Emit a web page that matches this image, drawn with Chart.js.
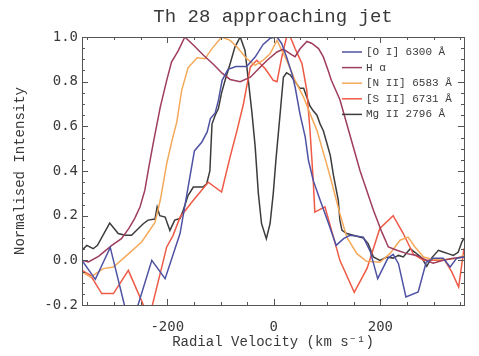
<!DOCTYPE html>
<html>
<head>
<meta charset="utf-8">
<script src="https://cdn.jsdelivr.net/npm/chart.js@4.4.1/dist/chart.umd.min.js"></script>
<style>
  html, body { margin: 0; padding: 0; background: #fff; }
</style>
</head>
<body>
<canvas id="chart" width="479" height="356"></canvas>
<script>
// [O I] 6300 A
var oiVel = [-360, -335, -307, -269, -229, -204, -176, -149, -135, -125, -119, -110, -104, -97, -86, -71, -51, -35, -20, -7, 6, 15, 24, 34, 40, 49, 59, 65, 74, 87, 102, 117, 131, 143, 168, 181, 195, 214, 224, 234, 248, 271, 286, 299, 318, 331, 343, 357];
var oiInt = [0.0, -0.085, 0.058, -0.31, 0.0, -0.082, 0.12, 0.49, 0.53, 0.575, 0.635, 0.66, 0.716, 0.806, 0.855, 0.868, 0.868, 0.91, 0.967, 0.994, 1.0, 0.97, 0.91, 0.836, 0.776, 0.657, 0.552, 0.448, 0.358, 0.269, 0.17, 0.067, 0.097, 0.112, 0.104, 0.04, -0.082, 0.009, 0.027, -0.015, -0.164, -0.142, -0.009, 0.009, 0.009, -0.03, 0.009, 0.015];

// H alpha
var haVel = [-360, -348, -329, -304, -286, -272, -261, -251, -242, -235, -226, -213, -201, -192, -179, -167, -151, -132, -113, -97, -82, -63, -44, -29, -13, 6, 18, 34, 40, 49, 62, 71, 84, 93, 102, 108, 124, 143, 162, 187, 203, 215, 231, 250, 268, 287, 299, 318, 337, 357];
var haInt = [0.0, -0.007, 0.018, 0.067, 0.097, 0.143, 0.188, 0.24, 0.314, 0.412, 0.528, 0.687, 0.806, 0.888, 0.94, 1.0, 0.964, 0.918, 0.877, 0.838, 0.81, 0.8, 0.82, 0.857, 0.895, 0.933, 0.946, 0.92, 0.912, 0.946, 0.98, 0.972, 0.948, 0.911, 0.85, 0.806, 0.72, 0.56, 0.40, 0.224, 0.125, 0.06, 0.045, 0.03, 0.022, 0.0, -0.013, 0.0, 0.009, 0.015];

// [N II] 6583 A
var niiVel = [-360, -344, -320, -301, -276, -248, -223, -213, -201, -191, -182, -173, -161, -144, -129, -116, -98, -82, -69, -51, -35, -20, -7, 6, 15, 24, 40, 56, 68, 81, 90, 99, 106, 124, 137, 156, 174, 199, 218, 237, 252, 265, 281, 299, 324, 343, 357];
var niiInt = [-0.052, -0.075, -0.037, -0.03, 0.022, 0.082, 0.17, 0.27, 0.433, 0.537, 0.62, 0.76, 0.862, 0.907, 0.903, 0.948, 1.0, 0.985, 0.955, 0.903, 0.873, 0.896, 0.925, 0.985, 0.94, 0.896, 0.806, 0.73, 0.657, 0.582, 0.507, 0.433, 0.373, 0.209, 0.104, 0.03, -0.004, -0.009, 0.03, 0.09, 0.104, 0.06, 0.015, 0.004, 0.004, 0.008, 0.022];

// [S II] 6731 A
var siiVel = [-360, -344, -323, -301, -273, -251, -234, -201, -189, -176, -151, -123, -98, -82, -69, -57, -44, -32, -16, -1, 6, 15, 24, 31, 40, 53, 62, 68, 74, 77, 96, 112, 124, 151, 175, 199, 224, 243, 262, 281, 299, 321, 334, 347, 357];
var siiInt = [-0.045, -0.067, -0.149, -0.149, -0.045, -0.166, -0.26, 0.06, 0.112, 0.193, 0.269, 0.35, 0.306, 0.463, 0.582, 0.70, 0.866, 0.896, 0.858, 0.806, 0.80, 0.91, 1.0, 1.0, 0.948, 0.88, 0.76, 0.58, 0.358, 0.216, 0.24, 0.104, 0.0, -0.143, -0.036, 0.143, 0.2, 0.12, 0.027, 0.0, 0.0, 0.0, -0.052, -0.12, 0.054];

// Mg II 2796 A
var mgVel = [-360, -351, -339, -331, -308, -292, -279, -267, -258, -245, -236, -223, -219, -214, -204, -195, -186, -176, -170, -161, -151, -133, -126, -120, -116, -110, -104, -98, -91, -82, -73, -63, -54, -48, -41, -35, -29, -23, -14, -7, -1, 4, 12, 18, 24, 31, 40, 49, 56, 62, 68, 74, 81, 87, 93, 99, 106, 112, 121, 124, 128, 137, 149, 168, 177, 187, 199, 212, 224, 234, 243, 256, 265, 278, 287, 296, 309, 318, 327, 337, 346, 353, 357];
var mgInt = [0.045, 0.067, 0.052, 0.067, 0.167, 0.12, 0.112, 0.112, 0.134, 0.164, 0.18, 0.185, 0.239, 0.2, 0.194, 0.134, 0.18, 0.187, 0.224, 0.29, 0.328, 0.328, 0.343, 0.40, 0.61, 0.65, 0.68, 0.75, 0.81, 0.88, 0.955, 1.0, 0.94, 0.81, 0.66, 0.51, 0.30, 0.164, 0.097, 0.164, 0.30, 0.45, 0.66, 0.82, 0.84, 0.83, 0.80, 0.77, 0.77, 0.73, 0.69, 0.67, 0.65, 0.61, 0.58, 0.53, 0.47, 0.38, 0.27, 0.18, 0.134, 0.12, 0.112, 0.10, 0.075, 0.015, 0.0, 0.015, 0.01, 0.022, 0.015, 0.052, 0.036, 0.01, -0.027, 0.01, 0.045, 0.037, 0.03, 0.022, 0.036, 0.082, 0.099];

var seriesLabels = ['[O I] 6300 \u00C5', 'H \u03B1', '[N II] 6583 \u00C5', '[S II] 6731 \u00C5', 'Mg II 2796 \u00C5'];
var seriesColors = ['#4f52a3', '#9e3d5c', '#f5a95a', '#ee5a46', '#3c3c3c'];

var chartTitle = 'Th 28 approaching jet';
var xTickLabels = [-200, 0, 200];
var yTickLabels = [-0.2, 0.0, 0.2, 0.4, 0.6, 0.8, 1.0];

function pts(v, s) {
    return v.map(function(x, k) { return { x: x, y: s[k] }; });
}

var allSeries = [pts(oiVel, oiInt), pts(haVel, haInt), pts(niiVel, niiInt), pts(siiVel, siiInt), pts(mgVel, mgInt)];

var datasets = allSeries.map(function(d, i) {
    return {
        label: seriesLabels[i],
        data: d,
        borderColor: seriesColors[i],
        backgroundColor: seriesColors[i],
        borderWidth: 1.5,
        pointRadius: 0,
        tension: 0,
        fill: false
    };
});

var frameColor = '#555';
var textColor = '#3a3a3a';

// IDL style box with inward ticks on all four sides, the title over the plot, and the legend
var frameAndLegend = {
    id: 'frameAndLegend',
    afterDatasetsDraw: function(chart) {
        var ctx = chart.ctx;
        var a = chart.chartArea;
        var xs = chart.scales.x, ys = chart.scales.y;
        ctx.save();
        ctx.strokeStyle = frameColor;
        ctx.lineWidth = 1;
        ctx.strokeRect(a.left + 0.5, a.top + 0.5, a.right - a.left, a.bottom - a.top);
        ctx.beginPath();
        for (var v = -350; v <= 350; v += 50) {
            var px = Math.round(xs.getPixelForValue(v)) + 0.5;
            var len = (v % 200 === 0) ? 6 : 3;
            ctx.moveTo(px, a.bottom); ctx.lineTo(px, a.bottom - len);
            ctx.moveTo(px, a.top); ctx.lineTo(px, a.top + len);
        }
        for (var k = -4; k <= 20; k++) {
            var val = k * 0.05;
            var py = Math.round(ys.getPixelForValue(val)) + 0.5;
            var l2 = (k % 4 === 0) ? 6 : 3;
            ctx.moveTo(a.left, py); ctx.lineTo(a.left + l2, py);
            ctx.moveTo(a.right, py); ctx.lineTo(a.right - l2, py);
        }
        ctx.stroke();

        // title, centred over the plot box
        ctx.fillStyle = textColor;
        ctx.font = '19px "Liberation Mono", monospace';
        ctx.textAlign = 'center';
        ctx.textBaseline = 'middle';
        ctx.fillText(chartTitle, (a.left + a.right) / 2, a.top - 20);

        // legend
        var lx = a.right - 122, ly = a.top + 15;
        ctx.font = '11px "Liberation Mono", monospace';
        ctx.textBaseline = 'middle';
        ctx.textAlign = 'left';
        chart.data.datasets.forEach(function(ds, i) {
            var y = ly + i * 15.6;
            ctx.strokeStyle = ds.borderColor;
            ctx.lineWidth = 1.5;
            ctx.beginPath();
            ctx.moveTo(lx, y); ctx.lineTo(lx + 20, y);
            ctx.stroke();
            ctx.fillStyle = textColor;
            ctx.fillText(ds.label, lx + 24, y);
        });
        ctx.restore();
    }
};

new Chart(document.getElementById('chart').getContext('2d'), {
    type: 'line',
    data: { datasets: datasets },
    options: {
        responsive: false,
        animation: false,
        devicePixelRatio: 1,
        layout: { padding: { left: 0, right: 15, top: 37, bottom: 0 } },
        plugins: {
            legend: { display: false },
            tooltip: { enabled: false },
            title: { display: false }
        },
        scales: {
            x: {
                type: 'linear',
                min: -360,
                max: 357,
                grid: { display: false, drawTicks: false },
                border: { display: false },
                afterBuildTicks: function(s) { s.ticks = xTickLabels.map(function(v) { return { value: v }; }); },
                afterFit: function(s) { s.height = 51; },
                ticks: {
                    color: textColor,
                    padding: 14,
                    font: { family: '"DejaVu Sans Mono", monospace', size: 14 },
                    callback: function(v) { return String(v); }
                },
                title: {
                    display: true,
                    text: 'Radial Velocity (km s\u207B\u00B9)',
                    color: textColor,
                    font: { family: '"Liberation Mono", monospace', size: 14 },
                    padding: { top: 0, bottom: 5 }
                }
            },
            y: {
                type: 'linear',
                min: -0.2,
                max: 1.0,
                grid: { display: false, drawTicks: false },
                border: { display: false },
                afterBuildTicks: function(s) { s.ticks = yTickLabels.map(function(v) { return { value: v }; }); },
                afterFit: function(s) { s.width = 82; },
                ticks: {
                    color: textColor,
                    padding: 4,
                    font: { family: '"DejaVu Sans Mono", monospace', size: 14 },
                    callback: function(v) { return v.toFixed(1); }
                },
                title: {
                    display: true,
                    text: 'Normalised Intensity',
                    color: textColor,
                    font: { family: '"Liberation Mono", monospace', size: 14 },
                    padding: { top: 12, bottom: 0 }
                }
            }
        }
    },
    plugins: [frameAndLegend]
});
</script>
</body>
</html>
